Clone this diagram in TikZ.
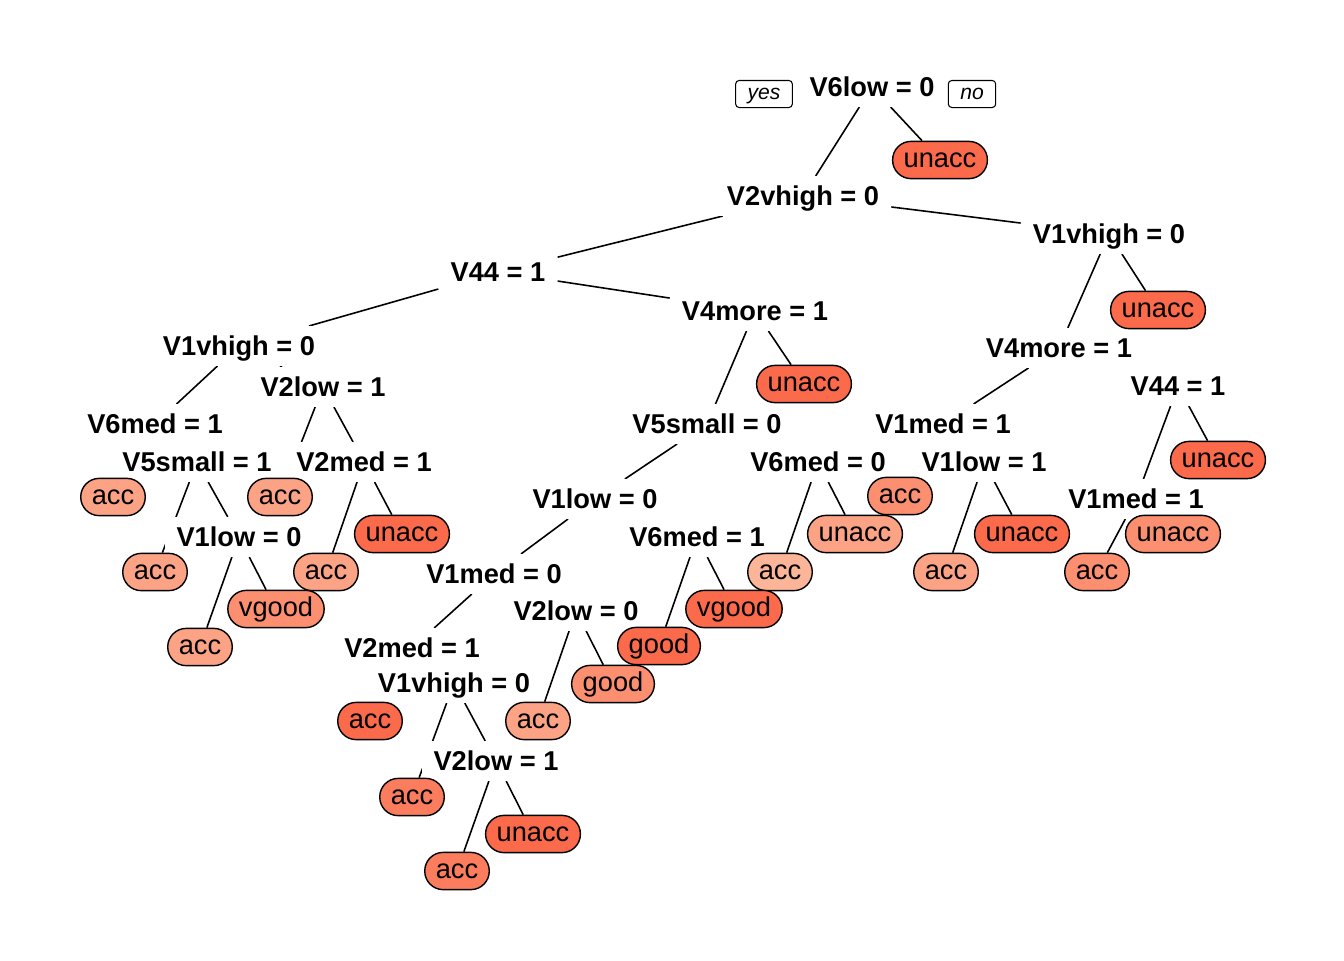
\documentclass[tikz,border=0pt]{standalone}
\usepackage{fontspec}
\setmainfont{Liberation Sans}
\usetikzlibrary{backgrounds}
\definecolor{redA}{HTML}{FB6A4A}
\definecolor{redB}{HTML}{FC7D5E}
\definecolor{redC}{HTML}{FC8F70}
\definecolor{redD}{HTML}{FCA385}
\definecolor{redE}{HTML}{FCB598}
\tikzstyle{split}=[fill=white,font=\fontsize{15.5pt}{18pt}\selectfont\bfseries,text height=12.4pt,text depth=1.2pt,inner xsep=6.8pt,inner ysep=4.4pt]
\tikzstyle{leaf}=[draw,line width=0.8pt,rounded corners=10.5pt,font=\fontsize{15.5pt}{18pt}\selectfont,text height=11.6pt,text depth=2.6pt,inner xsep=6.3pt,minimum height=21.2pt]
\tikzstyle{answer}=[draw,line width=0.6pt,rounded corners=2pt,font=\fontsize{12pt}{14pt}\selectfont\itshape,text height=8.6pt,text depth=2.4pt,inner xsep=6.8pt,inner ysep=2pt,minimum height=15.4pt]
\tikzstyle{branch} = [draw,line width=0.9pt]

\begin{document}
\begin{tikzpicture}[x=0.02cm,y=-0.02cm]
    \useasboundingbox (0,0) rectangle (1344,960);

    \foreach \pos/\name/\label in {{(872,87)/n1/V6low = 0}, {(803,196)/n2/V2vhigh = 0}, {(498,272)/n4/V44 = 1}, {(1109,234)/n5/V1vhigh = 0},
        {(239,346)/n8/V1vhigh = 0}, {(755,311)/n9/V4more = 1}, {(1059,348)/n10/V4more = 1}, {(155,424)/n16/V6med = 1},
        {(323,387)/n17/V2low = 1}, {(707,424)/n18/V5small = 0}, {(943,424)/n20/V1med = 1}, {(1178,386)/n21/V44 = 1},
        {(197,462)/n33/V5small = 1}, {(364,462)/n35/V2med = 1}, {(595,499)/n36/V1low = 0}, {(818,462)/n37/V6med = 0},
        {(984,462)/n41/V1low = 1}, {(1136,499)/n42/V1med = 1}, {(239,537)/n67/V1low = 0}, {(494,574)/n72/V1med = 0},
        {(697,537)/n73/V6med = 1}, {(412,648)/n144/V2med = 1}, {(576,611)/n145/V2low = 0}, {(454,683)/n289/V1vhigh = 0},
        {(496,761)/n579/V2low = 1}}
        \node[split] (\name) at \pos {\label};

    \foreach \pos/\name/\label/\shade in {{(940,160)/n3/unacc/redA}, {(1158,310)/n11/unacc/redA}, {(804,384)/n19/unacc/redA},
        {(113,497)/n32/acc/redD}, {(280,497)/n34/acc/redD}, {(900,496)/n40/acc/redC}, {(1218,460)/n43/unacc/redA},
        {(155,572)/n66/acc/redD}, {(326,572)/n70/acc/redD}, {(402,534)/n71/unacc/redA}, {(780,572)/n74/acc/redE},
        {(855,534)/n75/unacc/redD}, {(946,572)/n82/acc/redD}, {(1022,534)/n83/unacc/redA}, {(1097,572)/n84/acc/redC},
        {(1173,534)/n85/unacc/redC}, {(200,647)/n134/acc/redD}, {(276,609)/n135/vgood/redC}, {(659,646)/n146/good/redA},
        {(734,609)/n147/vgood/redA}, {(370,721)/n288/acc/redA}, {(538,721)/n290/acc/redD}, {(613,684)/n291/good/redC},
        {(412,797)/n578/acc/redB}, {(457,871)/n1158/acc/redB}, {(533,834)/n1159/unacc/redA}}
        \node[leaf,fill=\shade] (\name) at \pos {\label};

    \node[answer] (yes) at (764,94) {yes};
    \node[answer] (no) at (972,94) {no};

    \begin{scope}[on background layer]
    \foreach \source/\dest in {n1/n2, n1/n3, n2/n4, n2/n5, n4/n8, n4/n9, n5/n10, n5/n11, n8/n16, n8/n17, n9/n18, n9/n19,
        n10/n20, n10/n21, n16/n32, n16/n33, n17/n34, n17/n35, n18/n36, n18/n37, n20/n40, n20/n41, n21/n42, n21/n43,
        n33/n66, n33/n67, n35/n70, n35/n71, n36/n72, n36/n73, n37/n74, n37/n75, n41/n82, n41/n83, n42/n84, n42/n85,
        n67/n134, n67/n135, n72/n144, n72/n145, n73/n146, n73/n147, n144/n288, n144/n289, n145/n290, n145/n291,
        n289/n578, n289/n579, n579/n1158, n579/n1159}
        \path[branch] (\source) -- (\dest);
    \end{scope}

\end{tikzpicture}
\end{document}
